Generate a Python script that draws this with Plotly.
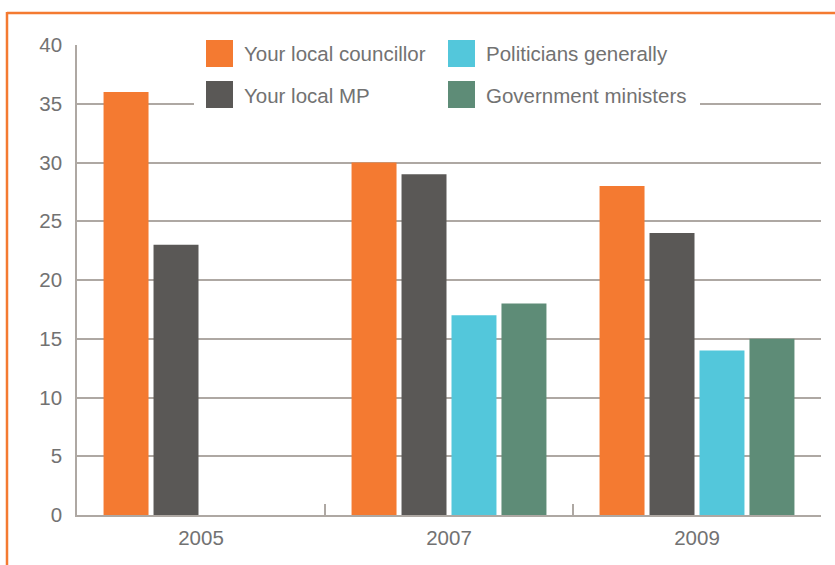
import plotly.graph_objects as go

years = ["2005", "2007", "2009"]
series_names = ["Your local councillor", "Your local MP", "Politicians generally", "Government ministers"]
councillor = [36, 30, 28]
local_mp = [23, 29, 24]
politicians = [None, 17, 14]
ministers = [None, 18, 15]
colors = ["#F47A31", "#5A5856", "#53C7DB", "#5E8C77"]
y_ticks = [0, 5, 10, 15, 20, 25, 30, 35, 40]

W, H = 835, 565
ML, MR, MT, MB = 77, 14, 45, 50
PW, PH = W - ML - MR, H - MT - MB

def px_x(px):
    return (px - ML) / PW

def px_y(py):
    return (H - MB - py) / PH

FONT = "Liberation Sans, Arial, sans-serif"
TXT = "#727272"
GRID = "#aea8a3"
FS = 20.5

fig = go.Figure()
for name, vals, col in zip(series_names, [councillor, local_mp, politicians, ministers], colors):
    fig.add_trace(go.Bar(x=years, y=vals, name=name, marker=dict(color=col, line=dict(width=0)),
                         showlegend=False))

shapes = []
# orange frame (top and left)
shapes.append(dict(type="line", xref="paper", yref="paper", x0=px_x(7), x1=px_x(840), y0=px_y(13), y1=px_y(13),
                   line=dict(color="#F47A31", width=2.5), layer="above"))
shapes.append(dict(type="line", xref="paper", yref="paper", x0=px_x(7), x1=px_x(7), y0=px_y(12), y1=px_y(570),
                   line=dict(color="#F47A31", width=2.5), layer="above"))
# legend background
shapes.append(dict(type="rect", xref="paper", yref="paper", x0=px_x(194), x1=px_x(700), y0=px_y(33), y1=px_y(116),
                   fillcolor="white", line=dict(width=0), layer="above"))
annotations = []
legend_pos = [(206, 40), (206, 81), (448, 40), (448, 81)]
for (lx, ly), name, col in zip(legend_pos, series_names, colors):
    shapes.append(dict(type="rect", xref="paper", yref="paper", x0=px_x(lx), x1=px_x(lx + 27),
                       y0=px_y(ly), y1=px_y(ly + 27), fillcolor=col, line=dict(width=0), layer="above"))
    annotations.append(dict(xref="paper", yref="paper", x=px_x(lx + 36), y=px_y(ly + 14), text=name,
                            showarrow=False, xanchor="left", yanchor="middle",
                            font=dict(family=FONT, size=FS, color=TXT)))

fig.update_layout(
    width=W, height=H,
    margin=dict(l=ML, r=MR, t=MT, b=MB),
    paper_bgcolor="white", plot_bgcolor="white",
    barmode="group", bargap=0.194, bargroupgap=0.1,
    shapes=shapes, annotations=annotations,
    font=dict(family=FONT, size=FS, color=TXT),
    xaxis=dict(showgrid=False, showline=True, linecolor=GRID, linewidth=2,
               ticks="inside", tickson="boundaries", ticklen=11, tickcolor=GRID, tickwidth=2,
               ticklabelstandoff=3, tickfont=dict(family=FONT, size=FS, color=TXT)),
    yaxis=dict(range=[0, 40], tickvals=y_ticks, showgrid=True, gridcolor=GRID, gridwidth=1.5,
               showline=True, linecolor=GRID, linewidth=1.5, zeroline=False, ticks="",
               ticklabelstandoff=9, tickfont=dict(family=FONT, size=FS, color=TXT)),
)

fig.write_html("out.html")
